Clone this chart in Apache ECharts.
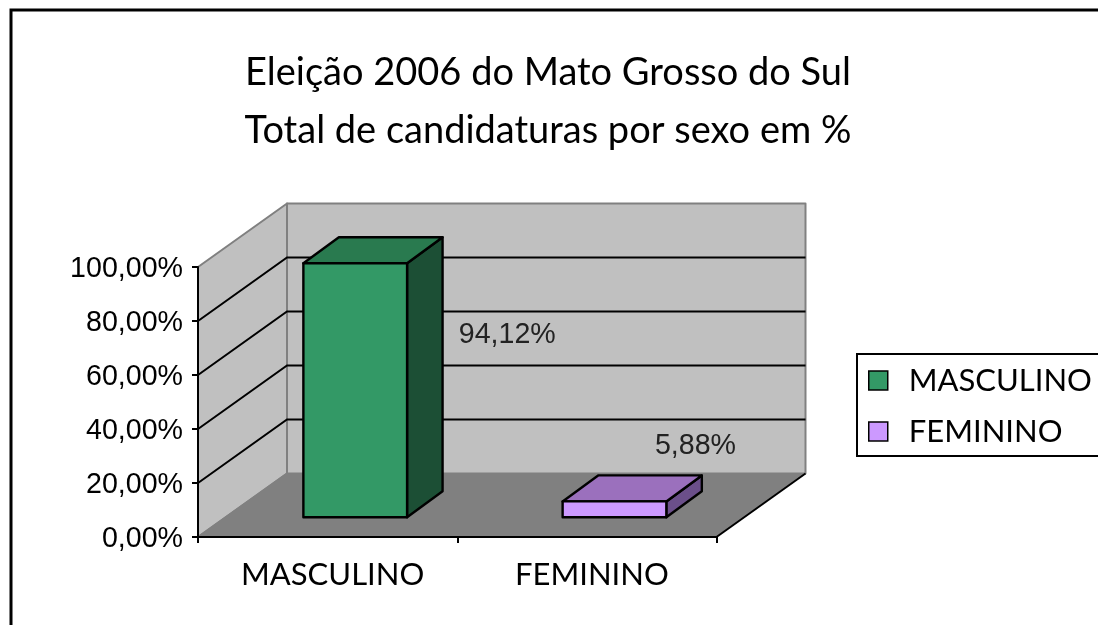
<!DOCTYPE html>
<html>
<head>
<meta charset="utf-8">
<style>html,body{margin:0;padding:0;background:#fff;overflow:hidden}#c{width:1098px;height:625px}</style>
<script src="https://cdn.jsdelivr.net/npm/echarts@6/dist/echarts.min.js"></script>
</head>
<body>
<div id="c"></div>
<script>
const titleLines = ['Eleição 2006 do Mato Grosso do Sul', 'Total de candidaturas por sexo em %'];
const categories = ['MASCULINO', 'FEMININO'];
const masculinoValues = [94.12];
const femininoValues = [5.88];
const yTicks = [0, 20, 40, 60, 80, 100];

const COMIC = 'Lato';
const ARIAL = '"Liberation Sans"';
const DEPTH = [89, -63.5];
const FLOOR_SHIFT = [27.6, -19.7];
const BAR_DEPTH = [35.5, -26];
const fmt = v => v.toFixed(2).replace('.', ',') + '%';

function wallsItem(params, api) {
  const p0 = api.coord([0, 0]);
  const p100 = api.coord([0, 100]);
  const sys = params.coordSys;
  const L = sys.x, R = sys.x + sys.width;
  const dx = DEPTH[0], dy = DEPTH[1];
  const grey = {stroke: '#808080', lineWidth: 2, lineJoin: 'round'};
  const kids = [
    {type: 'polygon', shape: {points: [[L, p0[1]], [L + dx, p0[1] + dy], [L + dx, p100[1] + dy], [L, p100[1]]]},
      style: Object.assign({fill: '#C0C0C0'}, grey)},
    {type: 'polygon', shape: {points: [[L + dx, p0[1] + dy], [R + dx, p0[1] + dy], [R + dx, p100[1] + dy], [L + dx, p100[1] + dy]]},
      style: Object.assign({fill: '#C0C0C0'}, grey)},
    {type: 'polygon', shape: {points: [[L, p0[1]], [R, p0[1]], [R + dx, p0[1] + dy], [L + dx, p0[1] + dy]]},
      style: {fill: '#808080'}},
    {type: 'line', shape: {x1: L, y1: p0[1], x2: L + dx, y2: p0[1] + dy}, style: {stroke: '#808080', lineWidth: 2}},
    {type: 'line', shape: {x1: R, y1: p0[1], x2: R + dx, y2: p0[1] + dy}, style: {stroke: '#000', lineWidth: 2}}
  ];
  yTicks.slice(1, -1).forEach(t => {
    const y = api.coord([0, t])[1];
    kids.push({type: 'polyline', shape: {points: [[L, y], [L + dx, y + dy], [R + dx, y + dy]]},
      style: {stroke: '#000', lineWidth: 2, fill: null}});
  });
  return {type: 'group', children: kids};
}

function barItem(colors, labelOffset) {
  return function (params, api) {
    const cat = api.value(0), val = api.value(1);
    const w = api.size([1, 0])[0] / 2.5;
    const base = api.coord([cat, 0]);
    const top = api.coord([cat, val]);
    const x0 = base[0] - w / 2 + FLOOR_SHIFT[0];
    const x1 = x0 + w;
    const yb = base[1] + FLOOR_SHIFT[1];
    const yt = top[1] + FLOOR_SHIFT[1];
    const dx = BAR_DEPTH[0], dy = BAR_DEPTH[1];
    const s = {stroke: '#000', lineWidth: 2.4, lineJoin: 'round'};
    return {type: 'group', children: [
      {type: 'polygon', shape: {points: [[x1, yb], [x1 + dx, yb + dy], [x1 + dx, yt + dy], [x1, yt]]},
        style: Object.assign({fill: colors[2]}, s)},
      {type: 'polygon', shape: {points: [[x0, yt], [x1, yt], [x1 + dx, yt + dy], [x0 + dx, yt + dy]]},
        style: Object.assign({fill: colors[1]}, s)},
      {type: 'rect', shape: {x: x0, y: yt, width: w, height: yb - yt},
        style: Object.assign({fill: colors[0]}, s)},
      {type: 'text', x: (x0 + x1) / 2 + labelOffset[0], y: yt + labelOffset[1],
        style: {text: fmt(val), fill: '#222', font: '28.6px ' + ARIAL, align: 'center', verticalAlign: 'middle'}}
    ]};
  };
}

const option = {
  animation: false,
  backgroundColor: '#fff',
  graphic: [{
    type: 'rect', z: -10, silent: true,
    shape: {x: 11, y: 10, width: 1200, height: 800},
    style: {fill: '#fff', stroke: '#000', lineWidth: 3}
  }],
  title: {
    text: titleLines.join('\n'),
    left: 543, top: 39, textAlign: 'center',
    textStyle: {fontFamily: COMIC, fontSize: 38, fontWeight: 'normal', color: '#000', lineHeight: 58}
  },
  legend: {
    data: categories,
    left: 857, top: 354,
    orient: 'vertical',
    selectedMode: false,
    icon: 'rect',
    itemWidth: 19, itemHeight: 19, itemGap: 20,
    padding: [11, 10, 9, 11],
    backgroundColor: '#fff',
    borderColor: '#000', borderWidth: 2,
    itemStyle: {borderColor: '#000', borderWidth: 1.5},
    textStyle: {fontFamily: COMIC, fontSize: 31, color: '#000', padding: [0, 0, 0, 16]}
  },
  grid: {left: 198, top: 267, width: 518.5, height: 270, containLabel: false},
  xAxis: {
    type: 'category', data: categories, z: 6,
    axisLine: {lineStyle: {color: '#000', width: 2}},
    axisTick: {show: true, length: 6, lineStyle: {color: '#000', width: 2}},
    axisLabel: {fontFamily: COMIC, fontSize: 31, color: '#000', margin: 22, padding: [0, 0, 0, 10]}
  },
  yAxis: {
    type: 'value', min: 0, max: 100, interval: 20, z: 6,
    axisLine: {show: true, lineStyle: {color: '#000', width: 2}},
    axisTick: {show: true, length: 6, lineStyle: {color: '#000', width: 2}},
    splitLine: {show: false},
    axisLabel: {fontFamily: ARIAL, fontSize: 28.6, color: '#000', margin: 15, verticalAlign: 'top', lineHeight: 5, formatter: fmt}
  },
  series: [
    {name: 'paredes', type: 'custom', z: 1, clip: false, silent: true,
      coordinateSystem: 'cartesian2d', renderItem: wallsItem, data: [[categories[0], 0]], encode: {x: 0, y: 1}},
    {name: categories[0], type: 'custom', z: 3, clip: false, coordinateSystem: 'cartesian2d',
      itemStyle: {color: '#339966'},
      renderItem: barItem(['#339966', '#297A4F', '#1C4F35'], [152, 72]),
      data: masculinoValues.map(v => [categories[0], v]), encode: {x: 0, y: 1}},
    {name: categories[1], type: 'custom', z: 3, clip: false, coordinateSystem: 'cartesian2d',
      itemStyle: {color: '#CC99FF'},
      renderItem: barItem(['#CC99FF', '#9B70BD', '#6B4F8A'], [81, -55]),
      data: femininoValues.map(v => [categories[1], v]), encode: {x: 0, y: 1}}
  ]
};
const chart = echarts.init(document.getElementById('c'), null, {renderer: 'canvas'});
chart.setOption(option);
</script>
</body>
</html>
